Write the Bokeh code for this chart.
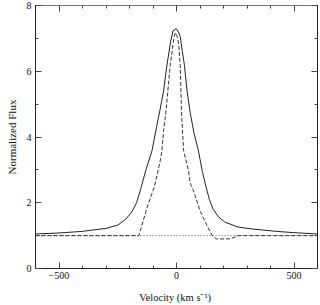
from bokeh.plotting import figure
from bokeh.models import LinearAxis, SingleIntervalTicker, Range1d, CustomJSTickFormatter
from bokeh.embed import file_html
from bokeh.resources import INLINE

# Solid profile
v_solid = [-600, -500, -400, -300, -250, -216, -190, -170, -153, -130, -104, -85, -71, -55, -41,
           -25, -15, -1, 8, 16, 25, 34, 45, 58, 75, 93, 110, 125, 140, 156, 180, 206, 262, 325,
           424, 500, 600]
f_solid = [1.05, 1.08, 1.13, 1.22, 1.32, 1.50, 1.72, 2.0, 2.4, 3.0, 3.59, 4.3, 4.8, 5.4, 6.17,
           6.9, 7.23, 7.3, 7.2, 7.05, 6.6, 6.17, 5.4, 4.75, 4.1, 3.59, 2.95, 2.5, 2.1, 1.8, 1.56,
           1.41, 1.26, 1.20, 1.13, 1.09, 1.05]

# Dashed profile
v_dash = [-600, -160, -125, -100, -93, -69, -62, -55, -45, -27, -10, -4, 3, 10, 16, 21, 30, 51,
          58, 72, 100, 130, 152, 170, 220, 240, 262, 600]
f_dash = [1.0, 1.0, 1.86, 2.37, 2.52, 3.28, 3.59, 4.2, 4.75, 6.17, 7.05, 7.17, 7.05, 6.8, 6.17,
          4.8, 3.59, 2.98, 2.6, 2.37, 1.76, 1.3, 1.0, 0.9, 0.9, 0.93, 1.0, 1.0]

# Continuum
v_cont = [-600, 600]
f_cont = [1.0, 1.0]

FONT = "Liberation Serif"

p = figure(width=320, height=305, output_backend="svg", toolbar_location=None,
           x_range=Range1d(-600, 600), y_range=Range1d(0, 8),
           x_axis_label="Velocity  (km s\u207b\u00b9)", y_axis_label="Normalized Flux",
           min_border_left=35, min_border_right=3, min_border_top=5, min_border_bottom=37)
p.grid.visible = False
p.outline_line_color = "#555555"
p.background_fill_color = "white"
p.border_fill_color = "white"

p.line(v_cont, f_cont, line_color="#555555", line_width=1, line_dash="1 2")
p.line(v_dash, f_dash, line_color="#333333", line_width=1, line_dash="4 2")
p.line(v_solid, f_solid, line_color="#222222", line_width=1)

xt = SingleIntervalTicker(interval=500, num_minor_ticks=5)
yt = SingleIntervalTicker(interval=2, num_minor_ticks=2)

def style(ax, labels=True):
    ax.major_tick_in = 6
    ax.major_tick_out = 0
    ax.minor_tick_in = 3
    ax.minor_tick_out = 0
    ax.axis_line_color = "#222222"
    ax.major_tick_line_color = "#444444"
    ax.minor_tick_line_color = "#444444"
    ax.major_label_text_font = FONT
    ax.major_label_text_font_size = "10px"
    ax.major_label_text_color = "#111111"
    ax.axis_label_text_font = FONT
    ax.axis_label_text_font_size = "10.5px"
    ax.axis_label_text_font_style = "normal"
    ax.axis_label_text_color = "#111111"
    if not labels:
        ax.formatter = CustomJSTickFormatter(code="return ''")
        ax.major_label_standoff = 0
        ax.axis_label = None

p.xaxis.ticker = xt
p.yaxis.ticker = yt
style(p.xaxis[0])
style(p.yaxis[0])
p.yaxis[0].axis_label_text_font_size = "11px"
p.xaxis[0].major_label_standoff = 3
p.xaxis[0].axis_label_standoff = 10
p.yaxis[0].major_label_standoff = 4
p.yaxis[0].axis_label_standoff = 6

top = LinearAxis(ticker=SingleIntervalTicker(interval=500, num_minor_ticks=5))
right = LinearAxis(ticker=SingleIntervalTicker(interval=2, num_minor_ticks=2))
style(top, labels=False)
style(right, labels=False)
top.axis_line_color = "#777777"
right.axis_line_color = "#222222"
p.add_layout(top, "above")
p.add_layout(right, "right")

open("out.html", "w").write(file_html(p, INLINE))
